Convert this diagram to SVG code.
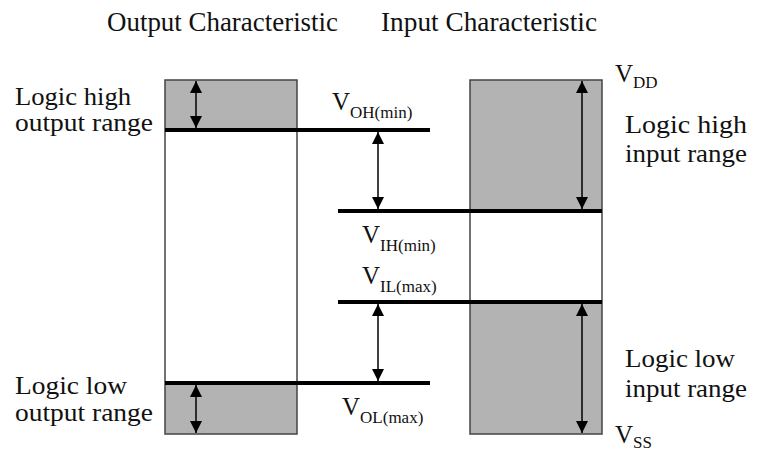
<svg xmlns="http://www.w3.org/2000/svg" width="761" height="453" viewBox="0 0 761 453">
  <style>
    text { font-family: "Liberation Serif", "Times New Roman", serif; fill: #111; }
    .title { font-size: 27px; }
    .lbl { font-size: 25px; }
    .v { font-size: 25px; }
    .sub { font-size: 17px; }
    .band { fill: #b3b3b3; stroke: none; }
    .frame { fill: none; stroke: #444; stroke-width: 1.5; }
    .level { stroke: #000; stroke-width: 4; }
    .span { stroke: #000; stroke-width: 1.5; marker-start: url(#head); marker-end: url(#head); }
  </style>
  <defs>
    <marker id="head" viewBox="0 0 12 12" refX="12" refY="6" markerWidth="12" markerHeight="12" markerUnits="userSpaceOnUse" orient="auto-start-reverse">
      <path d="M0,0 L12,6 L0,12 Z" fill="#000"/>
    </marker>
  </defs>

  <rect width="761" height="453" fill="#fff"/>

  <!-- column headings -->
  <text class="title" x="107" y="31" textLength="231" lengthAdjust="spacingAndGlyphs">Output Characteristic</text>
  <text class="title" x="381" y="31" textLength="216" lengthAdjust="spacingAndGlyphs">Input Characteristic</text>

  <!-- output characteristic column -->
  <g id="output-column">
    <rect class="band" x="165" y="80" width="132" height="50"/>
    <rect class="band" x="165" y="383" width="132" height="51"/>
    <rect class="frame" x="165" y="80" width="132" height="354"/>
  </g>

  <!-- input characteristic column -->
  <g id="input-column">
    <rect class="band" x="470" y="80" width="132" height="131"/>
    <rect class="band" x="470" y="302" width="132" height="132"/>
    <rect class="frame" x="470" y="80" width="132" height="354"/>
  </g>

  <!-- threshold levels -->
  <g id="levels">
    <line class="level" x1="165" y1="130" x2="430" y2="130"/>
    <line class="level" x1="338" y1="211" x2="602" y2="211"/>
    <line class="level" x1="338" y1="302" x2="602" y2="302"/>
    <line class="level" x1="165" y1="383" x2="430" y2="383"/>
  </g>

  <!-- range spans -->
  <g id="connectors">
    <line class="span" x1="196" y1="81" x2="196" y2="128"/>
    <line class="span" x1="196" y1="385" x2="196" y2="433"/>
    <line class="span" x1="378" y1="132" x2="378" y2="209"/>
    <line class="span" x1="378" y1="304" x2="378" y2="381"/>
    <line class="span" x1="582" y1="81" x2="582" y2="209"/>
    <line class="span" x1="582" y1="304" x2="582" y2="433"/>
  </g>

  <!-- range labels -->
  <g id="label-out-high">
    <text class="lbl" x="15" y="105" textLength="116" lengthAdjust="spacingAndGlyphs">Logic high</text>
    <text class="lbl" x="15" y="131" textLength="138" lengthAdjust="spacingAndGlyphs">output range</text>
  </g>
  <g id="label-out-low">
    <text class="lbl" x="15" y="394" textLength="112" lengthAdjust="spacingAndGlyphs">Logic low</text>
    <text class="lbl" x="15" y="421" textLength="138" lengthAdjust="spacingAndGlyphs">output range</text>
  </g>
  <g id="label-in-high">
    <text class="lbl" x="625" y="133" textLength="122" lengthAdjust="spacingAndGlyphs">Logic high</text>
    <text class="lbl" x="625" y="162" textLength="122" lengthAdjust="spacingAndGlyphs">input range</text>
  </g>
  <g id="label-in-low">
    <text class="lbl" x="625" y="367" textLength="110" lengthAdjust="spacingAndGlyphs">Logic low</text>
    <text class="lbl" x="625" y="397" textLength="122" lengthAdjust="spacingAndGlyphs">input range</text>
  </g>

  <!-- voltage names -->
  <g id="v-oh">
    <text x="332" y="110"><tspan class="v">V</tspan><tspan class="sub" dy="8">OH(min)</tspan></text>
  </g>
  <g id="v-ih">
    <text x="362" y="243"><tspan class="v">V</tspan><tspan class="sub" dy="8">IH(min)</tspan></text>
  </g>
  <g id="v-il">
    <text x="362" y="284"><tspan class="v">V</tspan><tspan class="sub" dy="8">IL(max)</tspan></text>
  </g>
  <g id="v-ol">
    <text x="342" y="415"><tspan class="v">V</tspan><tspan class="sub" dy="8">OL(max)</tspan></text>
  </g>
  <g id="v-dd">
    <text x="615" y="82"><tspan class="v">V</tspan><tspan class="sub" dy="6">DD</tspan></text>
  </g>
  <g id="v-ss">
    <text x="615" y="443"><tspan class="v">V</tspan><tspan class="sub" dy="5">SS</tspan></text>
  </g>
</svg>
